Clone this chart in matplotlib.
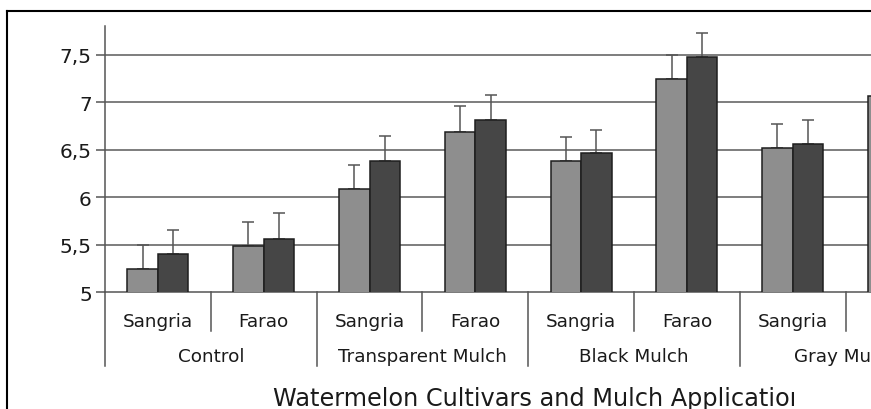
import numpy as np
import matplotlib
matplotlib.use('Agg')
import matplotlib.pyplot as plt
from matplotlib.lines import Line2D
from matplotlib.transforms import Bbox, TransformedBbox, blended_transform_factory

# values (last Gray Mulch bars run off the picture)
mulches = ['Control', 'Transparent Mulch', 'Black Mulch', 'Gray Mulch']
cultivars = ['Sangria', 'Farao']
series_a = [5.25, 5.49, 6.09, 6.69, 6.38, 7.24, 6.52, 7.06]
series_b = [5.40, 5.56, 6.38, 6.81, 6.46, 7.47, 6.56, 7.20]
err_a = [0.25, 0.25, 0.25, 0.27, 0.25, 0.26, 0.25, 0.25]
err_b = [0.26, 0.27, 0.26, 0.26, 0.25, 0.26, 0.25, 0.25]
yticks = [5, 5.5, 6, 6.5, 7, 7.5]
ytick_labels = ['5', '5,5', '6', '6,5', '7', '7,5']
xlabel = 'Watermelon Cultivars and Mulch Application'

W, H = 871, 410
fig = plt.figure(figsize=(W / 100, H / 100), dpi=100)
plt.rcParams['font.family'] = 'DejaVu Sans'

n = len(series_a)
slot = 105.8
ax = fig.add_axes([105 / W, 1 - 293.3 / H, n * slot / W, 266.3 / H])

x = np.arange(n) + 0.5
bw = 0.288
ax.bar(x - bw / 2, series_a, bw, bottom=0, color='#8e8e8e', edgecolor='#1e1e1e',
       linewidth=1.1, zorder=3)
ax.bar(x + bw / 2, series_b, bw, bottom=0, color='#464646', edgecolor='#1e1e1e',
       linewidth=1.1, zorder=3)
ax.errorbar(x - bw / 2, series_a, yerr=[np.zeros(n), err_a], fmt='none',
            ecolor='#555555', elinewidth=1.1, capsize=4.3, capthick=1.1, zorder=2)
ax.errorbar(x + bw / 2, series_b, yerr=[np.zeros(n), err_b], fmt='none',
            ecolor='#555555', elinewidth=1.1, capsize=4.3, capthick=1.1, zorder=2)

ax.set_xlim(0, n)
ax.set_ylim(5, 7.8)
ax.set_yticks(yticks)
ax.set_yticklabels(ytick_labels, fontsize=14.5, color='#1a1a1a')
ax.tick_params(axis='y', length=6.5, width=1.1, color='#555555', pad=3)
ax.set_xticks([])
for g in yticks[1:]:
    ax.axhline(g, color='#5a5a5a', linewidth=1.1, zorder=1)
for s in ['top', 'right']:
    ax.spines[s].set_visible(False)
ax.spines['left'].set_color('#555555')
ax.spines['bottom'].set_color('#555555')
ax.spines['left'].set_linewidth(1.1)
ax.spines['bottom'].set_linewidth(1.1)

# two-level category axis
tr = blended_transform_factory(ax.transData, ax.transAxes)
px = 1 / 266.3
for i in range(n + 1):
    depth = 74 if i % 2 == 0 else 39
    ax.plot([i, i], [0, -depth * px], color='#555555', linewidth=1.1,
            transform=tr, clip_on=False)
for i in range(n):
    ax.text(i + 0.5, -34 * px, cultivars[i % 2], transform=tr, ha='center',
            va='baseline', fontsize=13.2, color='#1a1a1a')
for j, m in enumerate(mulches):
    ax.text(2 * j + 1, -69 * px, m, transform=tr, ha='center', va='baseline',
            fontsize=13.2, color='#1a1a1a')

t = fig.text(273 / W, 1 - 406.5 / H, xlabel, ha='left', va='baseline',
             fontsize=17.3, color='#1a1a1a')
t.set_clip_box(TransformedBbox(Bbox([[0, 0], [794 / W, 1]]), fig.transFigure))
t.set_clip_on(True)

# chart frame (cut off at the right and bottom)
fig.add_artist(Line2D([7 / W, 1.1], [1 - 12 / H, 1 - 12 / H], color='black',
                      linewidth=1.5, transform=fig.transFigure))
fig.add_artist(Line2D([7 / W, 7 / W], [1 - 12 / H, -0.1], color='black',
                      linewidth=1.5, transform=fig.transFigure))

fig.savefig('out.png', dpi=100)
